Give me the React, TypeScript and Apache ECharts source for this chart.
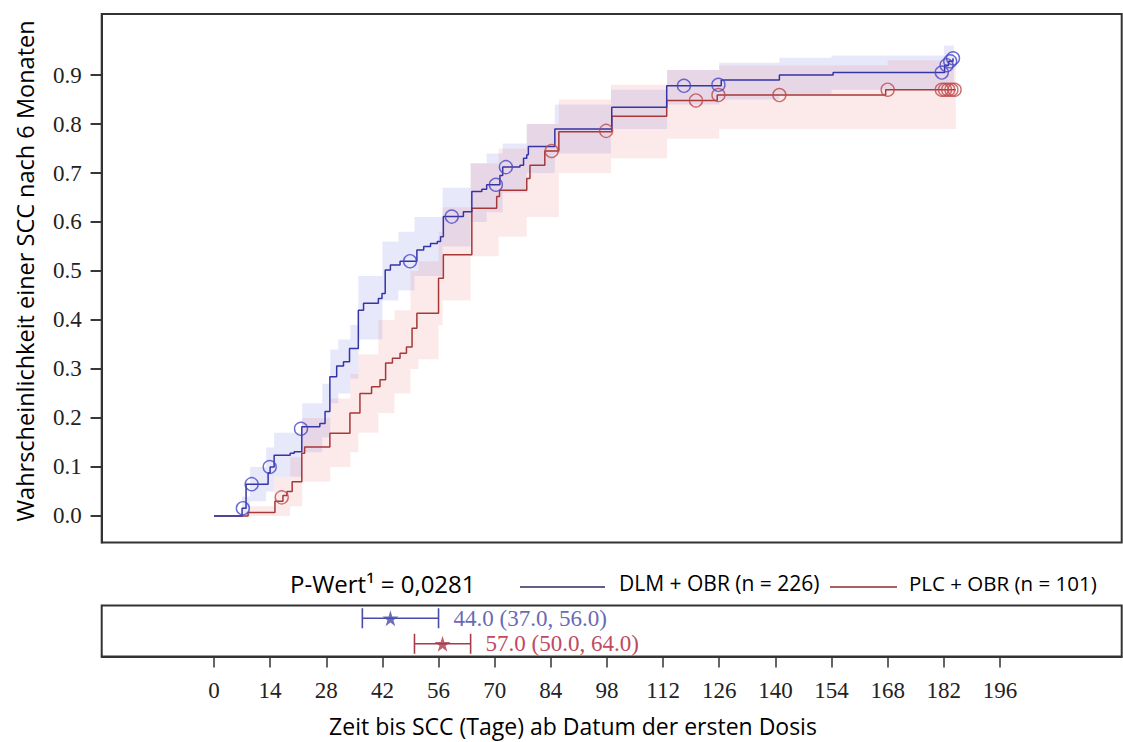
import React, { useEffect, useRef } from 'react';
import * as echarts from 'echarts';

// ---- axis ticks ----
const xTickValues = [0, 14, 28, 42, 56, 70, 84, 98, 112, 126, 140, 154, 168, 182, 196];
const yTickValues = [0, 0.1, 0.2, 0.3, 0.4, 0.5, 0.6, 0.7, 0.8, 0.9];

// ---- DLM + OBR (blue) Kaplan-Meier steps ----
const dlmTimes = [0, 7, 8, 13.5, 14, 15, 19, 20, 21.9, 26.4, 27.7, 28.9, 30.6, 32.3, 33.8, 36, 37.3, 41, 41.9, 42.7, 44, 46.4, 50.6, 52.3, 54, 55.7, 56.5, 57.2, 62.2, 64.3, 66.8, 68, 71.3, 72, 76.3, 77.2, 78, 78.4, 85, 99.2, 112.9, 126.5, 141, 154.4, 182.2, 183.2, 184.3];
const dlmProb = [0, 0.016, 0.065, 0.088, 0.1, 0.124, 0.128, 0.131, 0.182, 0.189, 0.213, 0.284, 0.306, 0.315, 0.342, 0.42, 0.434, 0.444, 0.454, 0.502, 0.512, 0.52, 0.543, 0.55, 0.556, 0.56, 0.57, 0.611, 0.621, 0.662, 0.667, 0.676, 0.695, 0.712, 0.716, 0.73, 0.737, 0.754, 0.79, 0.834, 0.878, 0.89, 0.9, 0.905, 0.92, 0.928, 0.934];
const dlmCensorTimes = [7.2, 9.4, 13.9, 21.7, 48.9, 59.3, 70.3, 72.8, 117.2, 125.8, 181.5, 182.7, 183.6, 184.3];
const dlmCensorProb = [0.016, 0.065, 0.1, 0.178, 0.52, 0.611, 0.676, 0.712, 0.878, 0.88, 0.905, 0.92, 0.928, 0.934];
const dlmBandTimes = [7, 9, 13, 15, 22, 27, 29, 31, 34, 36, 42, 46, 50, 57, 64, 68, 72, 78, 85, 99, 113, 126, 141, 154, 182, 184.5];
const dlmBandLow = [0, 0.03, 0.05, 0.08, 0.13, 0.16, 0.23, 0.25, 0.28, 0.36, 0.44, 0.46, 0.49, 0.55, 0.6, 0.62, 0.66, 0.7, 0.74, 0.79, 0.84, 0.85, 0.86, 0.87, 0.88];
const dlmBandHigh = [0.04, 0.1, 0.14, 0.17, 0.23, 0.27, 0.34, 0.36, 0.39, 0.49, 0.56, 0.58, 0.61, 0.67, 0.72, 0.74, 0.76, 0.8, 0.84, 0.87, 0.91, 0.925, 0.935, 0.94, 0.96];

// ---- PLC + OBR (red) Kaplan-Meier steps ----
const plcTimes = [0, 8.5, 15.2, 17.2, 18.2, 19.5, 21.9, 22.6, 28.9, 33.9, 36.4, 39.3, 41.4, 42.8, 44.5, 46.4, 48, 49.4, 50.6, 56, 57.2, 64.3, 70.5, 71.2, 78, 78.8, 82.5, 86, 99.2, 112.9, 125.5, 167.5, 185];
const plcProb = [0, 0.007, 0.03, 0.042, 0.05, 0.07, 0.128, 0.141, 0.169, 0.21, 0.25, 0.264, 0.278, 0.312, 0.322, 0.332, 0.345, 0.383, 0.414, 0.485, 0.533, 0.628, 0.652, 0.665, 0.689, 0.716, 0.745, 0.784, 0.816, 0.848, 0.859, 0.87, 0.87];
const plcCensorTimes = [16.9, 84.2, 97.8, 120.2, 125.8, 141, 168, 181.5, 182.3, 183.1, 183.9, 184.7];
const plcCensorProb = [0.038, 0.745, 0.786, 0.848, 0.859, 0.859, 0.87, 0.87, 0.87, 0.87, 0.87, 0.87];
const plcBandTimes = [8.5, 15, 19, 22, 29, 34, 36, 41, 45, 49, 51, 56, 57, 64, 71, 78, 86, 99, 113, 126, 168, 185];
const plcBandLow = [0, 0, 0.02, 0.07, 0.1, 0.13, 0.17, 0.21, 0.25, 0.3, 0.32, 0.39, 0.44, 0.53, 0.57, 0.61, 0.7, 0.73, 0.77, 0.79, 0.79];
const plcBandHigh = [0.02, 0.08, 0.12, 0.2, 0.24, 0.29, 0.33, 0.4, 0.42, 0.5, 0.52, 0.58, 0.63, 0.72, 0.75, 0.8, 0.85, 0.88, 0.91, 0.92, 0.93];

// ---- median time to SCC with 95% CI ----
const groups = ['DLM + OBR', 'PLC + OBR'];
const medianEst = [44.0, 57.0];
const medianLow = [37.0, 50.0];
const medianHigh = [56.0, 64.0];

const legendLabels = ['DLM + OBR (n = 226)', 'PLC + OBR (n = 101)'];
const pValueText = 'P-Wert\u00b9 = 0,0281';
const yTitle = 'Wahrscheinlichkeit einer SCC nach 6 Monaten';
const xTitle = 'Zeit bis SCC (Tage) ab Datum der ersten Dosis';

const BLUE_LINE = '#3535a6';
const RED_LINE = '#a63838';
const BLUE_MARK = '#4646c8';
const RED_MARK = '#c04848';
const SERIF = '"Liberation Serif", "Times New Roman", serif';
const SANS = '"Open Sans", "Noto Sans", sans-serif';

const PX_PER_DAY = 4.01;
const GRID_LEFT = 101.7;
const GRID_W = 1020;
const X_MIN = -28;
const X_MAX = X_MIN + GRID_W / PX_PER_DAY;
const TICK_LEN = 11;

function bandSeries(times: number[], low: number[], high: number[], fill: string) {
  const data = low.map((l, i) => [times[i], times[i + 1], l, high[i]]);
  return {
    type: 'custom',
    xAxisIndex: 0,
    yAxisIndex: 0,
    silent: true,
    z: 1,
    data,
    encode: { x: [0, 1], y: [2, 3] },
    renderItem: (params: any, api: any) => {
      if (params.dataIndex !== 0) return { type: 'group', children: [] };
      const pts: number[][] = [];
      for (let i = 0; i < data.length; i++) {
        pts.push(api.coord([data[i][0], data[i][3]]));
        pts.push(api.coord([data[i][1], data[i][3]]));
      }
      for (let i = data.length - 1; i >= 0; i--) {
        pts.push(api.coord([data[i][1], data[i][2]]));
        pts.push(api.coord([data[i][0], data[i][2]]));
      }
      return { type: 'polygon', shape: { points: pts }, style: { fill } };
    },
  };
}

const STAR = 'path://M50,0 L61,35 L98,35 L68,57 L79,91 L50,70 L21,91 L32,57 L2,35 L39,35 Z';

export default function App() {
  const ref = useRef<HTMLDivElement>(null);
  useEffect(() => {
    if (!ref.current) return;
    const chart = echarts.init(ref.current, null, { renderer: 'svg' });
    const ciColors = ['#4a4aaa', '#a83a4a'];
    const ciTextColors = ['#6a6ab4', '#c04a62'];
    const option: any = {
      animation: false,
      backgroundColor: '#ffffff',
      grid: [
        { left: GRID_LEFT, top: 14, width: GRID_W, height: 528.5, show: true, borderColor: '#333', borderWidth: 2, backgroundColor: 'transparent' },
        { left: GRID_LEFT, top: 605.5, width: GRID_W, height: 51, show: true, borderColor: '#333', borderWidth: 2, backgroundColor: 'transparent' },
      ],
      xAxis: [
        { type: 'value', gridIndex: 0, min: X_MIN, max: X_MAX, show: false },
        {
          type: 'value', gridIndex: 1, min: X_MIN, max: X_MAX,
          axisLine: { show: true, onZero: false, lineStyle: { color: '#333', width: 2 } },
          splitLine: { show: false },
          axisTick: { show: true, length: TICK_LEN, customValues: xTickValues, lineStyle: { color: '#333', width: 1.5 } },
          axisLabel: { customValues: xTickValues, margin: 22, fontFamily: SERIF, fontSize: 23, color: '#222' },
        },
      ],
      yAxis: [
        {
          type: 'value', gridIndex: 0, min: -0.0541, max: 1.0245, position: 'left',
          axisLine: { show: true, onZero: false, lineStyle: { color: '#333', width: 2 } },
          splitLine: { show: false },
          axisTick: { show: true, inside: false, length: TICK_LEN, customValues: yTickValues, lineStyle: { color: '#333', width: 1.5 } },
          axisLabel: { customValues: yTickValues, formatter: (v: number) => v.toFixed(1), margin: 20, fontFamily: SERIF, fontSize: 23, color: '#222' },
        },
        { type: 'category', gridIndex: 1, data: groups, inverse: true, show: false, axisLine: { onZero: false } },
      ],
      series: [
        bandSeries(dlmBandTimes, dlmBandLow, dlmBandHigh, 'rgba(95,110,230,0.15)'),
        bandSeries(plcBandTimes, plcBandLow, plcBandHigh, 'rgba(230,95,95,0.13)'),
        {
          type: 'line', xAxisIndex: 0, yAxisIndex: 0, step: 'end', showSymbol: false, z: 3,
          data: plcTimes.map((t, i) => [t, plcProb[i]]),
          lineStyle: { color: RED_LINE, width: 1.5 },
        },
        {
          type: 'line', xAxisIndex: 0, yAxisIndex: 0, step: 'end', showSymbol: false, z: 4,
          data: dlmTimes.map((t, i) => [t, dlmProb[i]]),
          lineStyle: { color: BLUE_LINE, width: 1.5 },
        },
        {
          type: 'scatter', xAxisIndex: 0, yAxisIndex: 0, symbol: 'circle', symbolSize: 13, z: 5,
          data: plcCensorTimes.map((t, i) => [t, plcCensorProb[i]]),
          itemStyle: { color: 'rgba(0,0,0,0)', borderColor: RED_MARK, borderWidth: 1.4 },
        },
        {
          type: 'scatter', xAxisIndex: 0, yAxisIndex: 0, symbol: 'circle', symbolSize: 13, z: 6,
          data: dlmCensorTimes.map((t, i) => [t, dlmCensorProb[i]]),
          itemStyle: { color: 'rgba(0,0,0,0)', borderColor: BLUE_MARK, borderWidth: 1.4 },
        },
        {
          type: 'custom', xAxisIndex: 1, yAxisIndex: 1, z: 5,
          data: medianEst.map((e, i) => [e, medianLow[i], medianHigh[i], i]),
          encode: { x: [0, 1, 2], y: 3 },
          renderItem: (params: any, api: any) => {
            const i = params.dataIndex;
            const row = api.value(3);
            const lo = api.coord([api.value(1), row]);
            const hi = api.coord([api.value(2), row]);
            const st = { stroke: ciColors[i], lineWidth: 1.6 };
            const label = `${Number(api.value(0)).toFixed(1)} (${Number(api.value(1)).toFixed(1)}, ${Number(api.value(2)).toFixed(1)})`;
            return {
              type: 'group',
              children: [
                { type: 'line', shape: { x1: lo[0], y1: lo[1], x2: hi[0], y2: hi[1] }, style: st },
                { type: 'line', shape: { x1: lo[0], y1: lo[1] - 10, x2: lo[0], y2: lo[1] + 10 }, style: st },
                { type: 'line', shape: { x1: hi[0], y1: hi[1] - 10, x2: hi[0], y2: hi[1] + 10 }, style: st },
                {
                  type: 'text', x: hi[0] + 15, y: hi[1],
                  style: { text: label, fill: ciTextColors[i], fontSize: 23, fontFamily: SERIF, align: 'left', verticalAlign: 'middle' },
                },
              ],
            };
          },
        },
        {
          type: 'scatter', xAxisIndex: 1, yAxisIndex: 1, symbol: STAR, symbolSize: 16, z: 6,
          data: medianEst.map((e, i) => ({ value: [e, groups[i]], itemStyle: { color: ciColors[i] } })),
        },
      ],
      graphic: [
        {
          type: 'text', x: 25, y: 271, rotation: Math.PI / 2,
          style: { text: yTitle, fill: '#000', fontSize: 23.5, fontFamily: SANS, align: 'center', verticalAlign: 'middle' },
        },
        {
          type: 'text', x: 573, y: 726,
          style: { text: xTitle, fill: '#000', fontSize: 23, fontFamily: SANS, align: 'center', verticalAlign: 'middle' },
        },
        {
          type: 'text', x: 290, y: 583,
          style: { text: pValueText, fill: '#000', fontSize: 24, fontFamily: SANS, align: 'left', verticalAlign: 'middle' },
        },
        { type: 'line', shape: { x1: 520, y1: 587, x2: 605, y2: 587 }, style: { stroke: '#2b2b62', lineWidth: 1.5 } },
        {
          type: 'text', x: 619, y: 583,
          style: { text: legendLabels[0], fill: '#000', fontSize: 21, fontFamily: SANS, align: 'left', verticalAlign: 'middle' },
        },
        { type: 'line', shape: { x1: 830, y1: 587, x2: 897, y2: 587 }, style: { stroke: '#8e2a2e', lineWidth: 1.5 } },
        {
          type: 'text', x: 909, y: 583,
          style: { text: legendLabels[1], fill: '#000', fontSize: 20.5, fontFamily: SANS, align: 'left', verticalAlign: 'middle' },
        },
      ],
    };
    chart.setOption(option);

    // y-axis tick marks, positioned through the grid's own scale
    const tickLines = yTickValues.map((v, i) => {
      const p = chart.convertToPixel({ gridIndex: 0 } as any, [X_MIN, v]) as number[];
      return {
        type: 'line', id: 'ytick' + i, z: 100,
        shape: { x1: p[0] - TICK_LEN, y1: p[1], x2: p[0], y2: p[1] },
        style: { stroke: '#333', lineWidth: 1.8 },
      };
    });
    chart.setOption({ graphic: tickLines } as any);
    return () => chart.dispose();
  }, []);
  return <div ref={ref} style={{ position: 'absolute', left: 0, top: 0, width: 1123, height: 742, background: '#fff' }} />;
}
